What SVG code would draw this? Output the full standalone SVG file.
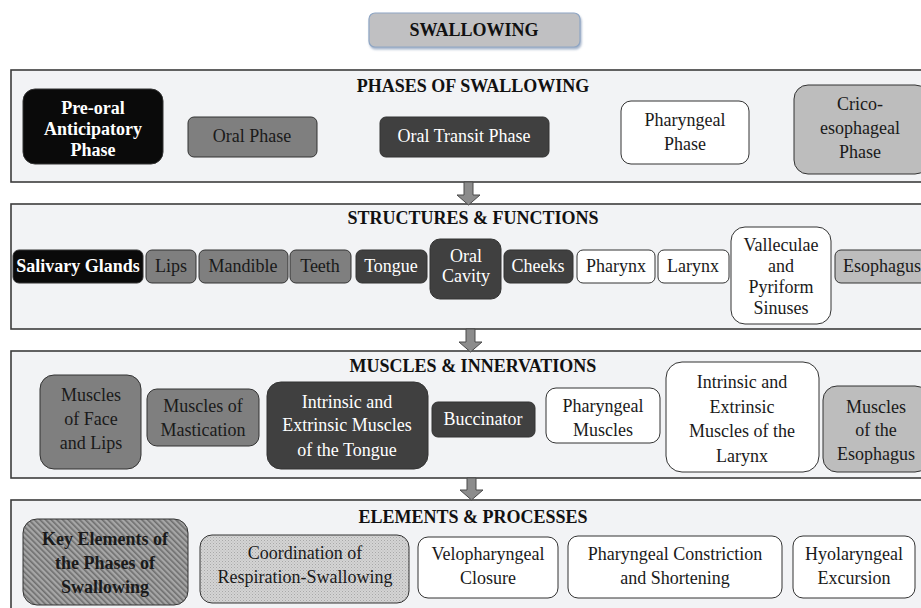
<svg xmlns="http://www.w3.org/2000/svg" width="921" height="608" viewBox="0 0 921 608">
<defs>
<pattern id="diag" width="4" height="4" patternUnits="userSpaceOnUse" patternTransform="rotate(-45)">
<rect width="4" height="4" fill="#a6a6a6"/>
<rect width="1.6" height="4" fill="#6e6e6e"/>
</pattern>
<pattern id="dots" width="3" height="3" patternUnits="userSpaceOnUse">
<rect width="3" height="3" fill="#d4d4d4"/>
<rect width="1" height="1" fill="#a8a8a8"/>
<rect x="1.5" y="1.5" width="1" height="1" fill="#b4b4b4"/>
</pattern>
<filter id="sh" x="-10%" y="-20%" width="120%" height="150%">
<feDropShadow dx="1" dy="2" stdDeviation="1" flood-color="#7f94b3" flood-opacity="0.7"/>
</filter>
</defs>
<style>
text{font-family:'Liberation Serif','Times New Roman',serif;font-size:18px;text-anchor:middle;fill:#1a1a1a}
.sec{fill:#f2f3f5;stroke:#3c3c3c;stroke-width:1.6}
.title{font-weight:bold;fill:#111}
.n rect{stroke:#333;stroke-width:1}
.blk rect{fill:#0a0a0a}
.blk text{fill:#fff;font-weight:bold}
.mid rect{fill:#7f7f7f}
.drk rect{fill:#404040}
.drk text{fill:#fff}
.wht rect{fill:#fff}
.lgt rect{fill:#bdbdbd}
.hatch rect{fill:url(#diag)}
.hatch text{font-weight:bold}
.dot rect{fill:url(#dots)}
.arr{fill:#8c8c8c;stroke:#4a4a4a;stroke-width:1}
</style>

<g id="root">
<rect x="369" y="13" width="211" height="34" rx="6" fill="#c0c0c2" stroke="#8fa6c4" stroke-width="1.2" filter="url(#sh)"/>
<text x="474" y="36" class="title">SWALLOWING</text>
</g>

<g id="sections">
<rect class="sec" x="11" y="70" width="920" height="112"/>
<text class="title" x="473" y="92">PHASES OF SWALLOWING</text>
<rect class="sec" x="11" y="204" width="920" height="125"/>
<text class="title" x="473" y="224">STRUCTURES &amp; FUNCTIONS</text>
<rect class="sec" x="11" y="351" width="920" height="127"/>
<text class="title" x="473" y="372">MUSCLES &amp; INNERVATIONS</text>
<rect class="sec" x="11" y="500" width="920" height="112"/>
<text class="title" x="473" y="523">ELEMENTS &amp; PROCESSES</text>
</g>

<g id="connectors">
<path class="arr" d="M464,182 H473 V195 H480 L468.5,205 L457,195 H464 Z"/>
<path class="arr" d="M466,329 H475 V342 H482 L470.5,352 L459,342 H466 Z"/>
<path class="arr" d="M467,478 H476 V490 H483 L471.5,500 L460,490 H467 Z"/>
</g>

<g id="preoral" class="n blk"><rect x="23" y="89" width="140" height="75" rx="12"/>
<text x="93" y="114">Pre-oral</text><text x="93" y="135">Anticipatory</text><text x="93" y="156">Phase</text></g>
<g id="oralphase" class="n mid"><rect x="188" y="117" width="129" height="40" rx="6"/>
<text x="252" y="142">Oral Phase</text></g>
<g id="oraltransit" class="n drk"><rect x="380" y="117" width="169" height="40" rx="6"/>
<text x="464" y="142">Oral Transit Phase</text></g>
<g id="pharyngealphase" class="n wht"><rect x="621" y="101" width="128" height="63" rx="10"/>
<text x="685" y="126">Pharyngeal</text><text x="685" y="150">Phase</text></g>
<g id="crico" class="n lgt"><rect x="794" y="85" width="135" height="89" rx="14"/>
<text x="860" y="110">Crico-</text><text x="860" y="134">esophageal</text><text x="860" y="158">Phase</text></g>

<g id="salivary" class="n blk"><rect x="13" y="250" width="130" height="33" rx="6"/>
<text x="78" y="272">Salivary Glands</text></g>
<g id="lips" class="n mid"><rect x="146" y="250" width="50" height="33" rx="6"/>
<text x="171" y="272">Lips</text></g>
<g id="mandible" class="n mid"><rect x="199" y="250" width="89" height="33" rx="6"/>
<text x="243" y="272">Mandible</text></g>
<g id="teeth" class="n mid"><rect x="290" y="250" width="61" height="33" rx="6"/>
<text x="320" y="272">Teeth</text></g>
<g id="tongue" class="n drk"><rect x="356" y="250" width="71" height="33" rx="6"/>
<text x="391" y="272">Tongue</text></g>
<g id="oralcavity" class="n drk"><rect x="430" y="239" width="71" height="60" rx="10"/>
<text x="466" y="262">Oral</text><text x="466" y="282">Cavity</text></g>
<g id="cheeks" class="n drk"><rect x="504" y="250" width="69" height="33" rx="6"/>
<text x="538" y="272">Cheeks</text></g>
<g id="pharynx" class="n wht"><rect x="577" y="250" width="78" height="33" rx="6"/>
<text x="616" y="272">Pharynx</text></g>
<g id="larynx" class="n wht"><rect x="658" y="250" width="71" height="33" rx="6"/>
<text x="693" y="272">Larynx</text></g>
<g id="valleculae" class="n wht"><rect x="731" y="227" width="100" height="97" rx="14"/>
<text x="781" y="251">Valleculae</text><text x="781" y="272">and</text><text x="781" y="293">Pyriform</text><text x="781" y="314">Sinuses</text></g>
<g id="esophagus" class="n lgt"><rect x="835" y="250" width="94" height="33" rx="6"/>
<text x="882" y="272">Esophagus</text></g>

<g id="facelips" class="n mid"><rect x="40" y="375" width="101" height="94" rx="14"/>
<text x="91" y="401">Muscles</text><text x="91" y="425">of Face</text><text x="91" y="449">and Lips</text></g>
<g id="mastication" class="n mid"><rect x="147" y="389" width="112" height="57" rx="10"/>
<text x="203" y="412">Muscles of</text><text x="203" y="436">Mastication</text></g>
<g id="tonguemuscles" class="n drk"><rect x="267" y="382" width="161" height="87" rx="14"/>
<text x="347" y="408">Intrinsic and</text><text x="347" y="431">Extrinsic Muscles</text><text x="347" y="456">of the Tongue</text></g>
<g id="buccinator" class="n drk"><rect x="432" y="402" width="103" height="35" rx="6"/>
<text x="483" y="425">Buccinator</text></g>
<g id="pharyngealmuscles" class="n wht"><rect x="546" y="388" width="114" height="55" rx="10"/>
<text x="603" y="412">Pharyngeal</text><text x="603" y="436">Muscles</text></g>
<g id="larynxmuscles" class="n wht"><rect x="666" y="362" width="153" height="110" rx="16"/>
<text x="742" y="388">Intrinsic and</text><text x="742" y="413">Extrinsic</text><text x="742" y="437">Muscles of the</text><text x="742" y="462">Larynx</text></g>
<g id="esophagusmuscles" class="n lgt"><rect x="823" y="386" width="106" height="86" rx="14"/>
<text x="876" y="413">Muscles</text><text x="876" y="436">of the</text><text x="876" y="460">Esophagus</text></g>

<g id="keyelements" class="n hatch"><rect x="23" y="519" width="165" height="86" rx="14"/>
<text x="105" y="545">Key Elements of</text><text x="105" y="569">the Phases of</text><text x="105" y="593">Swallowing</text></g>
<g id="coordination" class="n dot"><rect x="200" y="535" width="209" height="68" rx="12"/>
<text x="305" y="559">Coordination of</text><text x="305" y="583">Respiration-Swallowing</text></g>
<g id="velopharyngeal" class="n wht"><rect x="418" y="537" width="140" height="61" rx="10"/>
<text x="488" y="560">Velopharyngeal</text><text x="488" y="584">Closure</text></g>
<g id="constriction" class="n wht"><rect x="568" y="536" width="214" height="62" rx="10"/>
<text x="675" y="560">Pharyngeal Constriction</text><text x="675" y="584">and Shortening</text></g>
<g id="hyolaryngeal" class="n wht"><rect x="793" y="536" width="122" height="62" rx="10"/>
<text x="854" y="560">Hyolaryngeal</text><text x="854" y="584">Excursion</text></g>
</svg>
